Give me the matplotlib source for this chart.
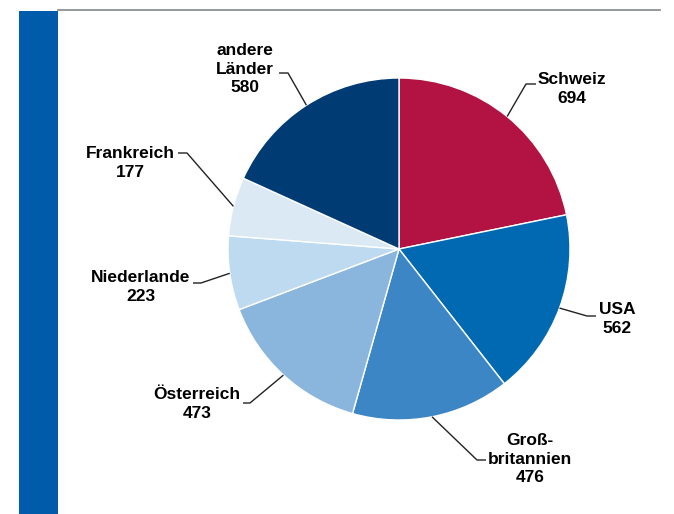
import numpy as np
import matplotlib
matplotlib.use("Agg")
import matplotlib.pyplot as plt
from matplotlib.patches import Rectangle

# Data
countries = ["Schweiz", "USA", "Groß-\nbritannien", "Österreich", "Niederlande", "Frankreich", "andere\nLänder"]
values = [694, 562, 476, 473, 223, 177, 580]
colors = ["#B31342", "#0069B1", "#3D86C6", "#8AB6DE", "#BEDAF0", "#DBE9F5", "#003B74"]

W, H = 674, 514
fig = plt.figure(figsize=(W / 100, H / 100), dpi=100)
ax = fig.add_axes([0, 0, 1, 1])
ax.set_xlim(0, W)
ax.set_ylim(0, H)
ax.set_aspect("equal")
ax.axis("off")

# Decorations: blue bar on left and grey top rule
ax.add_patch(Rectangle((19, 0), 39, H - 11, facecolor="#005BAA", edgecolor="none"))
ax.plot([58, 660], [H - 9.5, H - 9.5], color="#8C9197", lw=1.3)

cx, cy, r = 399, H - 249, 171
wedges, _ = ax.pie(values, colors=colors, startangle=90, counterclock=False,
                   center=(cx, cy), radius=r, frame=True,
                   wedgeprops=dict(edgecolor="white", linewidth=1))
ax.set_xlim(0, W)
ax.set_ylim(0, H)
ax.axis("off")

# Label layout: text center, elbow point, horizontal end (pixel coords, y down)
layout = [
    ((572, 89), (526, 84), (536, 84)),
    ((617, 319), (587, 316), (596, 316)),
    ((530, 459), (477, 460), (486, 460)),
    ((197, 404), (250, 403), (243, 403)),
    ((141, 287), (201, 283), (193, 283)),
    ((130, 163), (187, 153), (178, 153)),
    ((245, 69), (288, 73), (279, 73)),
]

tot = sum(values)
cum = 0
for name, v, (txt, elb, hend) in zip(countries, values, layout):
    mid = 90 - (cum + v / 2) / tot * 360
    cum += v
    ex = cx + r * np.cos(np.radians(mid))
    ey = cy + r * np.sin(np.radians(mid))
    ax.plot([ex, elb[0], hend[0]], [ey, H - elb[1], H - hend[1]],
            color="#222222", lw=1.0, solid_capstyle="butt")
    ax.text(txt[0], H - txt[1], f"{name}\n{v}", ha="center", va="center",
            fontsize=12.5, fontweight="bold", family="Liberation Sans",
            linespacing=1.3, color="black")

fig.savefig("out.png", dpi=100)
